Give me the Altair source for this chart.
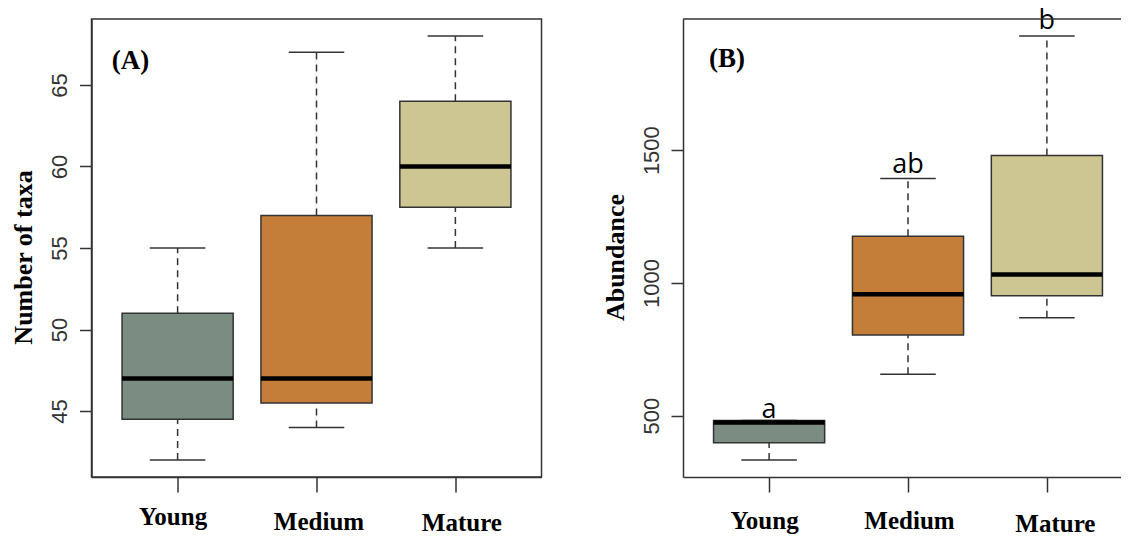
import altair as alt
import pandas as pd

groups = ["Young", "Medium", "Mature"]
positions = [1, 2, 3]
colors = ["#7b8c83", "#c47e3a", "#cdc692"]

# Panel A: Number of taxa (box statistics)
taxa_low = [42, 44, 55]
taxa_q1 = [44.5, 45.5, 57.5]
taxa_med = [47, 47, 60]
taxa_q3 = [51, 57, 64]
taxa_high = [55, 67, 68]
taxa_ticks = [45, 50, 55, 60, 65]

# Panel B: Abundance
abund_low = [333, 656, 869]
abund_q1 = [398, 804, 952]
abund_med = [474, 957, 1032]
abund_q3 = [482, 1176, 1480]
abund_high = [482, 1393, 1930]
abund_ticks = [500, 1000, 1500]
letters = ["a", "ab", "b"]
letter_y = [491, 1415, 1956]

PLOT_H = 458
PX_PER_UNIT = 450 / 3.24
FRAME = "#333333"

label_expr = " : ".join(
    f"datum.value == {p} ? '{g}'" for p, g in zip(positions, groups)
) + " : ''"


def cond3(vals):
    return {"condition": [
        {"test": "datum.value == 1", "value": vals[0]},
        {"test": "datum.value == 2", "value": vals[1]}],
        "value": vals[2]}


def make_panel(low, q1, med, q3, high, ticks, ytitle, tag, tag_xy, width, framed,
               x_offsets, x_pads, sig=None, sig_y=None):
    df = pd.DataFrame({"group": groups, "pos": positions, "low": low, "q1": q1,
                       "med": med, "q3": q3, "high": high})
    lo, hi = min(low), max(high)
    pad = 0.04 * (hi - lo)
    y_scale = alt.Scale(domain=[lo - pad, hi + pad], nice=False, zero=False)
    x_scale = alt.Scale(domain=[0.38, 0.38 + width / PX_PER_UNIT], nice=False, zero=False)

    x_axis = alt.Axis(
        values=positions, labelExpr=label_expr, grid=False,
        tickSize=15, tickColor=FRAME, tickWidth=1.5,
        domain=True, domainColor=FRAME, domainWidth=1.5,
        labelFont="Liberation Serif", labelFontWeight="bold", labelFontSize=25,
        labelColor="black", labelBaseline="top",
        labelFlush=False, labelOverlap=False,
        labelOffset=cond3(x_offsets), labelPadding=cond3(x_pads),
    )
    y_axis = alt.Axis(
        values=ticks, grid=False, format="d",
        tickSize=12, tickColor=FRAME, tickWidth=1.5,
        domain=True, domainColor=FRAME, domainWidth=1.5,
        labelAngle=270, labelAlign="center", labelBaseline="alphabetic",
        labelPadding=13, labelFont="Liberation Sans", labelFontSize=22,
        labelColor="#333333", labelFlush=False, labelOverlap=False,
        titleFont="Liberation Serif", titleFontWeight="bold", titleFontSize=26,
        titleColor="black", titleAngle=270, titleAlign="center",
        titleBaseline="alphabetic", titleX=-60, titleY=238,
    )

    def X(field):
        return alt.X(field, type="quantitative", scale=x_scale, axis=x_axis, title=None)

    def Y(field):
        return alt.Y(field, type="quantitative", scale=y_scale, axis=y_axis, title=ytitle)

    base = alt.Chart(df).transform_calculate(
        xl="datum.pos - 0.4", xr="datum.pos + 0.4",
        cl="datum.pos - 0.2", cr="datum.pos + 0.2",
    )

    whisk_lo = base.mark_rule(color=FRAME, strokeWidth=1.5, strokeDash=[7, 5]).encode(
        x=X("pos"), y=Y("low"), y2="q1:Q")
    whisk_hi = base.mark_rule(color=FRAME, strokeWidth=1.5, strokeDash=[7, 5]).encode(
        x=X("pos"), y=Y("q3"), y2="high:Q")
    cap_lo = base.mark_rule(color=FRAME, strokeWidth=1.5).encode(
        x=X("cl"), x2="cr:Q", y=Y("low"))
    cap_hi = base.mark_rule(color=FRAME, strokeWidth=1.5).encode(
        x=X("cl"), x2="cr:Q", y=Y("high"))
    box = base.mark_rect(stroke=FRAME, strokeWidth=1.5).encode(
        x=X("xl"), x2="xr:Q", y=Y("q1"), y2="q3:Q",
        fill=alt.Fill("group:N", scale=alt.Scale(domain=groups, range=colors), legend=None))
    median = base.mark_rule(color="black", strokeWidth=4.5).encode(
        x=X("xl"), x2="xr:Q", y=Y("med"))
    tag_text = alt.Chart(pd.DataFrame({"t": [tag]})).mark_text(
        font="Liberation Serif", fontWeight="bold", fontSize=27, align="left",
        baseline="alphabetic", color="black").encode(
        x=alt.datum(tag_xy[0], type="quantitative", scale=x_scale),
        y=alt.datum(tag_xy[1], type="quantitative", scale=y_scale),
        text="t:N")

    layers = [whisk_lo, whisk_hi, cap_lo, cap_hi, box, median, tag_text]
    if sig is not None:
        sdf = pd.DataFrame({"pos": positions, "ly": sig_y, "letter": sig})
        layers.append(alt.Chart(sdf).mark_text(
            font="Open Sans", fontSize=27, baseline="alphabetic", align="center",
            color="black").encode(
            x=alt.X("pos:Q", scale=x_scale, axis=x_axis, title=None),
            y=alt.Y("ly:Q", scale=y_scale, axis=y_axis, title=ytitle),
            text="letter:N"))
    if not framed:
        layers.append(alt.Chart(pd.DataFrame({"k": [0]})).mark_rule(
            color=FRAME, strokeWidth=1.5).encode(
            x=alt.value(0), x2=alt.value(width), y=alt.value(0)))

    chart = alt.layer(*layers).properties(width=width, height=PLOT_H)
    if framed:
        chart = chart.properties(view=alt.ViewBackground(stroke=FRAME, strokeWidth=1.5))
    else:
        chart = chart.properties(view=alt.ViewBackground(stroke="transparent", strokeWidth=0))
    return chart


panel_a = make_panel(taxa_low, taxa_q1, taxa_med, taxa_q3, taxa_high, taxa_ticks,
                     "Number of taxa", "(A)", (0.525, 65.97), 450, True,
                     [-5, 2, 6], [12, 17, 18])
panel_b = make_panel(abund_low, abund_q1, abund_med, abund_q3, abund_high, abund_ticks,
                     "Abundance", "(B)", (0.567, 1813), 438, False,
                     [-5, 1, 8], [16, 16, 19],
                     sig=letters, sig_y=letter_y)

chart = alt.hconcat(panel_a, panel_b, spacing=141.5, bounds="flush").properties(
    autosize=alt.AutoSizeParams(type="none"),
    padding={"left": 83.5, "top": 11, "right": 1029.5, "bottom": 513},
).configure_view(strokeWidth=0).configure(background="white")

chart.save("out.html", embed_options={"renderer": "svg", "actions": False})
